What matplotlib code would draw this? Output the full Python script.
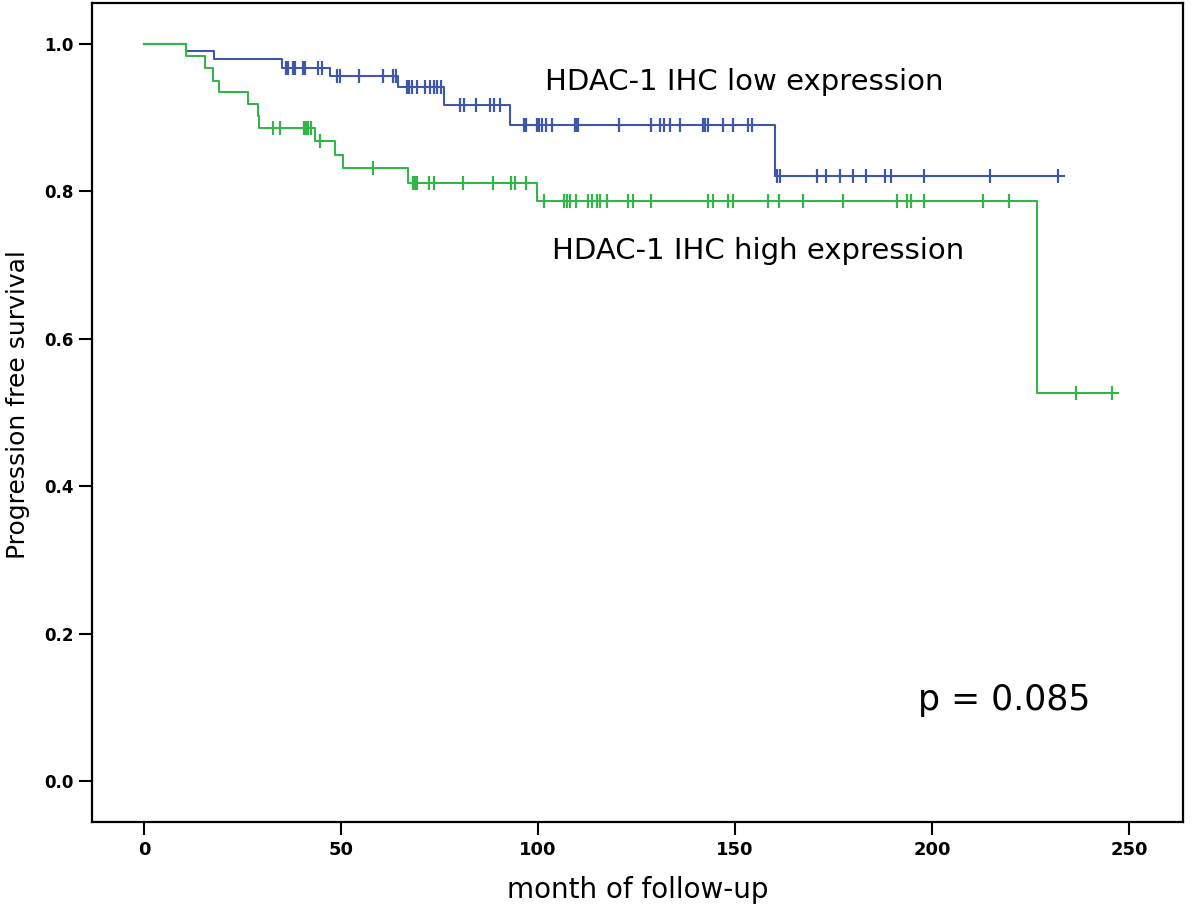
import numpy as np
import matplotlib
matplotlib.use("Agg")
import matplotlib.pyplot as plt

# ---- data ----
low_event_times = [0, 10.6, 17.8, 34.9, 47.2, 64.5, 76.1, 93.0, 160.2]
low_surv = [1.0, 0.990, 0.979, 0.968, 0.957, 0.941, 0.917, 0.890, 0.821]
low_end = 233.5
low_censor = [36.0, 36.6, 37.9, 38.3, 40.4, 40.9, 44.2, 45.1,
              49.1, 49.7, 54.6, 60.7, 63.1, 64.0,
              66.7, 67.3, 67.9, 69.2, 71.3, 72.6, 73.5, 74.4, 75.3,
              80.2, 81.2, 84.3, 87.8, 88.7, 90.4,
              96.5, 97.0, 99.8, 100.3, 100.9, 102.0, 103.5, 109.4, 109.8, 110.2,
              120.6, 128.6, 131.0, 132.0, 133.5, 136.0, 142.0, 142.5, 143.2,
              147.0, 149.6, 153.4, 154.2,
              160.6, 161.4, 170.7, 173.1, 176.6, 180.0, 183.2, 188.1, 189.5,
              198.0, 214.7, 232.1]

high_event_times = [0, 10.6, 15.5, 17.4, 19.1, 26.5, 28.8, 29.2, 43.4, 48.5,
                    50.4, 67.1, 99.7, 226.6]
high_surv = [1.0, 0.984, 0.967, 0.950, 0.935, 0.918, 0.902, 0.886, 0.868,
             0.849, 0.832, 0.812, 0.787, 0.526]
high_end = 247.3
high_censor = [32.7, 34.5, 40.6, 41.1, 41.7, 42.3,
               44.7, 58.2,
               68.3, 68.8, 69.2, 72.4, 73.7, 81.0, 88.5, 93.1, 94.2, 97.0,
               101.5, 106.7, 107.3, 108.1, 109.6, 112.8, 113.6, 114.9, 115.7,
               117.6, 122.9, 124.2, 128.6, 143.2, 144.5, 148.1, 149.5, 158.5,
               161.2, 167.3, 177.5, 191.0, 193.6, 194.6, 198.0, 213.0, 219.5,
               236.5, 245.8]

x_ticks = [0, 50, 100, 150, 200, 250]
y_ticks = [0.0, 0.2, 0.4, 0.6, 0.8, 1.0]

label_low = "HDAC-1 IHC low expression"
label_high = "HDAC-1 IHC high expression"
p_text = "p = 0.085"

blue = "#3E57A8"
green = "#33B54A"

fig = plt.figure(figsize=(12, 9.17), dpi=100)
ax = fig.add_axes([0.0767, 0.1036, 0.9091, 0.8931])


def draw_km(ax, times, surv, end, censor, color, z):
    t = list(times) + [end]
    s = list(surv) + [surv[-1]]
    ax.step(t, s, where="post", color=color, lw=1.5, zorder=z)
    ct = np.array(censor)
    idx = np.searchsorted(np.array(times), ct, side="right") - 1
    cs = np.array(surv)[idx]
    ax.plot(ct, cs, linestyle="none", marker="|", markersize=9.5,
            markeredgewidth=1.6, color=color, zorder=z)


draw_km(ax, low_event_times, low_surv, low_end, low_censor, blue, 3)
draw_km(ax, high_event_times, high_surv, high_end, high_censor, green, 4)

ax.set_xlim(-13.2, 263.7)
ax.set_ylim(-0.0556, 1.0556)
ax.set_xticks(x_ticks)
ax.set_yticks(y_ticks)
ax.set_xticklabels([str(v) for v in x_ticks], fontweight="bold", fontsize=13)
ax.set_yticklabels([f"{v:.1f}" for v in y_ticks], fontweight="bold", fontsize=12)
ax.tick_params(direction="out", length=9.5, width=1.5, pad=4, color="black")
for sp in ax.spines.values():
    sp.set_linewidth(1.6)

ax.set_ylabel("Progression free survival", fontsize=18)
ax.yaxis.set_label_coords(-0.057, 0.51)
ax.set_xlabel("month of follow-up", fontsize=20)
ax.xaxis.set_label_coords(0.5, -0.066)

ax.text(101.8, 0.948, label_low, fontsize=21, va="center", ha="left")
ax.text(103.6, 0.719, label_high, fontsize=21, va="center", ha="left")
ax.text(196.4, 0.11, p_text, fontsize=25, va="center", ha="left")

fig.savefig("out.png", dpi=100)
